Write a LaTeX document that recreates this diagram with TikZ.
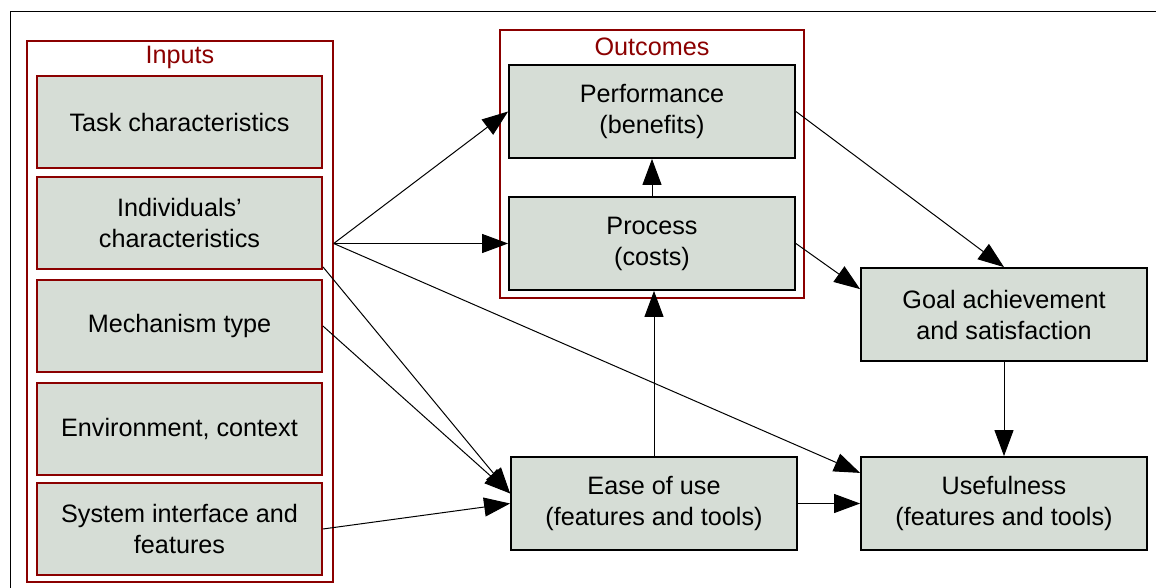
\documentclass[tikz,border=0pt]{standalone}
\usepackage{fontspec}
\setmainfont{Liberation Sans}
\usetikzlibrary{arrows.meta}
\definecolor{boxfill}{RGB}{214,221,214}
\definecolor{darkred}{RGB}{139,0,0}

\begin{document}
\begin{tikzpicture}[x=0.5pt, y=-0.5pt,
  every node/.style={font=\fontsize{12.6}{15.5}\selectfont},
  factor/.style={draw=darkred, fill=boxfill, line width=0.9pt, minimum width=142.5pt, minimum height=46pt, align=center, inner sep=0pt},
  result/.style={draw=black, fill=boxfill, line width=0.9pt, minimum width=143pt, minimum height=46.5pt, align=center, inner sep=0pt},
  group/.style={draw=darkred, line width=0.7pt, inner sep=0pt},
  grouplabel/.style={text=darkred},
  arrow/.style={-{Triangle[length=13pt,width=9.5pt]}, line width=0.5pt}]
\useasboundingbox (0,0) rectangle (1156,588);
\draw[line width=0.5pt] (10,588) |- (1156,12);

% groups
\node[group, minimum width=153pt, minimum height=270.5pt] (inputs) at (180,311.5) {};
\node[grouplabel] (inlabel) at (180,57) {Inputs};
\node[group, minimum width=152pt, minimum height=134pt] (outcomes) at (652,164) {};
\node[grouplabel] (outlabel) at (652,47) {Outcomes};

% inputs
\node[factor] (task) at (179.5,122) {Task characteristics};
\node[factor] (ind) at (179.5,223) {Individuals'\\characteristics};
\node[factor] (mech) at (179.5,326) {Mechanism type};
\node[factor] (env) at (179.5,429) {Environment, context};
\node[factor] (sys) at (179.5,529) {System interface and\\features};

% outcomes and results
\node[result] (perf) at (652,111.5) {Performance\\(benefits)};
\node[result] (proc) at (652,243.5) {Process\\(costs)};
\node[result] (goal) at (1004,314.5) {Goal achievement\\and satisfaction};
\node[result] (ease) at (654,503.5) {Ease of use\\(features and tools)};
\node[result] (use) at (1004,503.5) {Usefulness\\(features and tools)};

\coordinate (fan) at (inputs.east |- proc.west);

\path[]
(fan) edge[arrow] (perf.west)
(fan) edge[arrow] (proc.west)
(fan) edge[arrow] (use.168)
(ind.-17) edge[arrow] (ease.176)
(mech.east) edge[arrow] (ease.176)
(sys.east) edge[arrow] (ease.west)
(ease.north) edge[arrow] (ease.north |- proc.south)
(proc.north) edge[arrow] (perf.south)
(perf.east) edge[arrow] (goal.north)
(proc.east) edge[arrow] (goal.170)
(goal.south) edge[arrow] (use.north)
(ease.east) edge[arrow] (use.west)
;
\end{tikzpicture}
\end{document}
